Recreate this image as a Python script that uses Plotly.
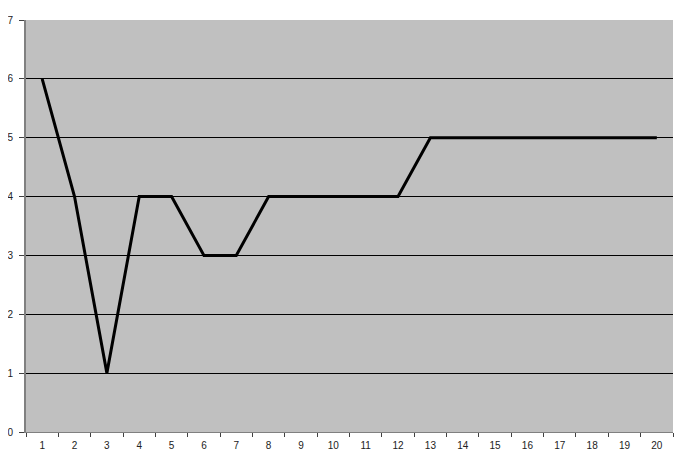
import plotly.graph_objects as go

categories = list(range(1, 21))
values = [6, 4, 1, 4, 4, 3, 3, 4, 4, 4, 4, 4, 5, 5, 5, 5, 5, 5, 5, 5]
y_ticks = [0, 1, 2, 3, 4, 5, 6, 7]

fig = go.Figure()
fig.add_trace(go.Scatter(
    x=categories, y=values, mode="lines",
    line=dict(color="black", width=3), showlegend=False,
))

# page body has an 8px default margin, so margins are reduced to compensate
fig.update_layout(
    width=676, height=450,
    margin=dict(l=18, r=11, t=12, b=26),
    paper_bgcolor="white", plot_bgcolor="#C0C0C0",
    font=dict(family="Liberation Sans, Arial, sans-serif", size=10, color="#222222"),
)
fig.update_xaxes(
    range=[0.5, 20.5], tickmode="array", tickvals=categories,
    ticktext=[str(c) for c in categories], ticks="", showgrid=False,
    showline=True, linecolor="#808080", linewidth=1, zeroline=False,
    minor=dict(tickmode="array", tickvals=[c + 0.5 for c in [0] + categories],
               ticks="outside", ticklen=4, tickcolor="#404040", showgrid=False),
    ticklabelstandoff=4, automargin=False,
)
fig.update_yaxes(
    range=[0, 7], tickmode="array", tickvals=y_ticks, ticks="outside",
    ticklen=5, tickcolor="#404040", showgrid=True, gridcolor="black", gridwidth=1,
    showline=True, linecolor="#808080", linewidth=2, zeroline=False,
    ticklabelstandoff=4, automargin=False,
)
fig.write_html("out.html")
